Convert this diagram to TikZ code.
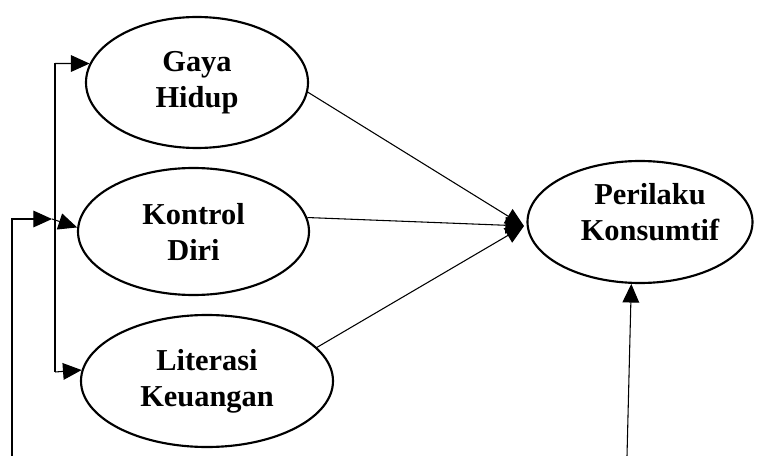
\documentclass[tikz,border=0pt]{standalone}
\usepackage{fontspec}
\setmainfont{Liberation Serif}
\usetikzlibrary{shapes.geometric,arrows.meta}
\begin{document}
\begin{tikzpicture}[x=0.75pt,y=-0.75pt,
  txt/.style={align=center,inner sep=0pt,font=\fontsize{22.8}{27}\selectfont\bfseries},
  var/.style={draw,ellipse,line width=1.6pt,inner sep=0pt,txt},
  arr/.style={line width=0.8pt,-{Triangle[length=14pt,width=12.5pt]}},
  ln/.style={line width=0.8pt}]
\useasboundingbox (0,0) rectangle (764,456);

\node[var,minimum width=166.5pt,minimum height=98.25pt] (gh) at (197,82.5) {Gaya\\Hidup};
\node[var,minimum width=173.25pt,minimum height=95.25pt] (kd) at (193.5,231.5) {Kontrol\\Diri};
\node[var,minimum width=189pt,minimum height=99pt] (lk) at (207,381) {Literasi\\Keuangan};
\node[var,minimum width=168.75pt,minimum height=91.5pt] (pk) at (640,222) {};
\node[txt] (pkt) at (650,212) {Perilaku\\Konsumtif};

% left bracket
\coordinate (top) at (55,63.5);
\coordinate (bot) at (55,372);
\draw[ln] (top) -- (bot);
\draw[arr] (top) -- (gh.170);
\draw[arr] (bot) -- (lk.175);

% outer line
\coordinate (ob) at (12,456);
\coordinate (oc) at (12,219);
\coordinate (om) at (52,219);
\draw[arr] (ob) -- (oc) -- (om);
\draw[arr] (om) -- (kd.178);

% to Perilaku Konsumtif
\coordinate (pin) at (524,226);
\draw[arr] (gh.-5) -- (pin);
\draw[arr] (kd.7) -- (pin);
\draw[arr] (lk.17) -- (pin);

\coordinate (rb) at (627,456);
\draw[arr] (rb) -- (pk.-98);
\end{tikzpicture}
\end{document}
